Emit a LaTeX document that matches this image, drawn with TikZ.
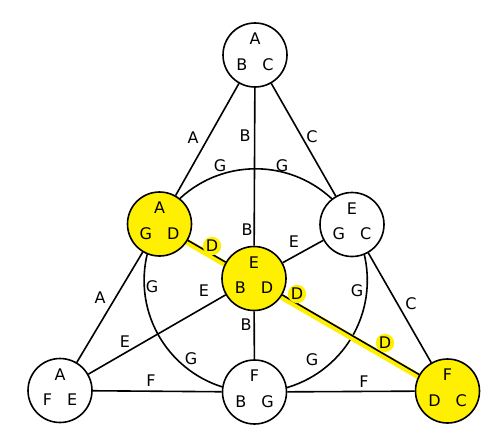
\documentclass[tikz,border=0pt]{standalone}
\usepackage{fontspec}
\setmainfont{DejaVu Sans}
\usetikzlibrary{calc}
\definecolor{myyellow}{RGB}{255,240,0}
\pgfdeclarelayer{bg}
\pgfsetlayers{bg,main}

\begin{document}
\begin{tikzpicture}[x=1pt,y=-1pt,
  pt/.style={draw, circle, line width=1.6pt, fill=white, minimum size=64pt, inner sep=0pt,
    align=center, text depth=7pt, font=\fontsize{16}{25.5}\selectfont},
  hl/.style={pt, fill=myyellow},
  lab/.style={font=\fontsize{16}{19}\selectfont, inner sep=1pt},
  dlab/.style={lab, circle, fill=myyellow, inner sep=0.5pt},
  ln/.style={line width=1.6pt}]
  \useasboundingbox (0,0) rectangle (502,444);

  % Points of the plane
  \node[pt] (top) at (255,55)    {A\\B\hspace{15pt}C};
  \node[hl] (lm)  at (159.5,224) {A\\G\hspace{15pt}D};
  \node[pt] (rm)  at (352,224.5) {E\\G\hspace{15pt}C};
  \node[hl] (c)   at (254,278.5) {E\\B\hspace{15pt}D};
  \node[pt] (bl)  at (60,390.5)  {A\\F\hspace{15pt}E};
  \node[pt] (bm)  at (254.5,392) {F\\B\hspace{15pt}G};
  \node[hl] (br)  at (447.5,391) {F\\D\hspace{15pt}C};

  % Circle G and the marked line D
  \begin{pgfonlayer}{bg}
    \draw[ln] (255.7,280.4) circle (111.6);
    \draw[line width=6pt, myyellow] ($(lm)+(0,2)$) -- ($(br)+(0,2)$);
  \end{pgfonlayer}

  % Lines
  \draw[ln] (top) -- (lm);
  \draw[ln] (lm) -- (bl);
  \draw[ln] (top) -- (c);
  \draw[ln] (c) -- (bm);
  \draw[ln] (top) -- (rm);
  \draw[ln] (rm) -- (br);
  \draw[ln] (bl) -- (c);
  \draw[ln] (c) -- (rm);
  \draw[ln] (bl) -- (bm);
  \draw[ln] (bm) -- (br);
  \draw[ln] (lm) -- (c);
  \draw[ln] (c) -- (br);

  % Line labels
  \node[lab] (la1) at (193,138) {A};
  \node[lab] (la2) at (100,298) {A};
  \node[lab] (lb1) at (245,136) {B};
  \node[lab] (lb2) at (247,230) {B};
  \node[lab] (lb3) at (246,325) {B};
  \node[lab] (lc1) at (312,137) {C};
  \node[lab] (lc2) at (411,304) {C};
  \node[lab] (le1) at (125,342) {E};
  \node[lab] (le2) at (204,291) {E};
  \node[lab] (le3) at (294,242) {E};
  \node[lab] (lf1) at (151,381) {F};
  \node[lab] (lf2) at (364,382) {F};
  \node[lab] (lg1) at (220,166) {G};
  \node[lab] (lg2) at (282,166) {G};
  \node[lab] (lg3) at (152,287) {G};
  \node[lab] (lg4) at (357,291) {G};
  \node[lab] (lg5) at (191,359) {G};
  \node[lab] (lg6) at (312,360) {G};
  \node[dlab] (ld1) at (212,246) {D};
  \node[dlab] (ld2) at (297,294) {D};
  \node[dlab] (ld3) at (385,343) {D};
\end{tikzpicture}
\end{document}
